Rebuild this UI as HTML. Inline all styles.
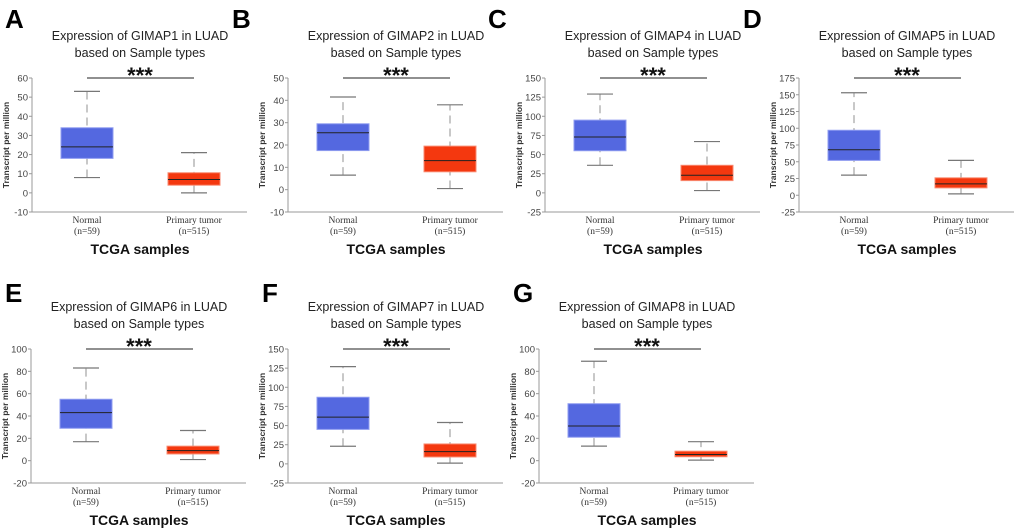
<!DOCTYPE html>
<html><head><meta charset="utf-8"><style>
html,body{margin:0;padding:0;background:#fff;}
svg{display:block;font-family:"Liberation Sans",sans-serif;}
</style></head><body>
<svg id="fig" width="1020" height="528" viewBox="0 0 1020 528"></svg>
<script>
const panelLetters = ["A","B","C","D","E","F","G"];
const genes = ["GIMAP1","GIMAP2","GIMAP4","GIMAP5","GIMAP6","GIMAP7","GIMAP8"];
const yMaxs = [60,50,150,175,100,150,100];
const yMins = [-10,-10,-25,-25,-20,-25,-20];
const ySteps = [10,10,25,25,20,25,20];
// [whiskerLow, q1, median, q3, whiskerHigh]
const normalStats = [[8,18,24,34,53],[6.5,17.5,25.5,29.5,41.5],[36,55,73,95,129],[30,52,68,97,153],[17,29,43,55,83],[23,45,61,87,127],[13,21,31,51,89]];
const tumorStats = [[0,4,7,10.5,21],[0.5,8,13,19.5,38],[3,16,23,36,67],[2,11,17,26,52],[1,6,9,13,27],[1,9,16,26,54],[0.5,3.5,5.5,8.5,17]];
const categories = ["Normal","Primary tumor"];
const counts = ["(n=59)","(n=515)"];

const NS="http://www.w3.org/2000/svg";
const svg=document.getElementById('fig');
function mk(tag,attrs,parent,text){const e=document.createElementNS(NS,tag);for(const k in attrs)e.setAttribute(k,attrs[k]);if(text!==undefined)e.textContent=text;(parent||svg).appendChild(e);return e;}
const axisXs=[32,288,545,799,31,288,539];
const rowTop=[78,78,78,78,349,349,349];
const letterPos=[[5,28],[232,28],[488,28],[743,28],[5,302],[262,302],[513,302]];
const plotH=134, plotW=215;

for(let p=0;p<7;p++){
  const g=mk('g',{});
  
  
  const ax=axisXs[p], top=rowTop[p], bot=top+plotH;
  const y=v=>top+(yMaxs[p]-v)/(yMaxs[p]-yMins[p])*plotH;
  const L=mk('text',{x:letterPos[p][0],y:letterPos[p][1],'font-size':26,'font-weight':'bold',fill:'#000'},g,panelLetters[p]);
  
  const cx=ax+108;
  const t1=mk('text',{x:cx,y:top-38,'font-size':12.5,'text-anchor':'middle',fill:'#222'},g,'Expression of '+genes[p]+' in LUAD');
  
  const t2=mk('text',{x:cx,y:top-21,'font-size':12.5,'text-anchor':'middle',fill:'#222'},g,'based on Sample types');
  
  mk('line',{x1:ax,y1:top,x2:ax,y2:bot,stroke:'#999','stroke-width':1},g);
  mk('line',{x1:ax,y1:bot,x2:ax+plotW,y2:bot,stroke:'#999','stroke-width':1},g);
  for(let v=yMins[p];v<=yMaxs[p]+1e-9;v+=ySteps[p]){
    mk('line',{x1:ax-3,y1:y(v),x2:ax,y2:y(v),stroke:'#999'},g);
    const tl=mk('text',{x:ax-4,y:y(v)+3.5,'font-size':9.5,'text-anchor':'end',fill:'#444'},g,String(v));
    
  }
  const yl=mk('text',{x:0,y:0,'font-size':8.5,'font-weight':'bold','text-anchor':'middle',fill:'#333',transform:`translate(${ax-23},${(top+bot)/2}) rotate(-90)`},g,'Transcript per million');
  
  const centers=[ax+55,ax+162];
  const stats=[normalStats[p],tumorStats[p]];
  const fills=['#5468e0','#f4380f'], strokes=['#8f9cf0','#f98a70'];
  for(let i=0;i<2;i++){
    const s=stats[i], c=centers[i];
    mk('line',{x1:c,y1:y(s[0]),x2:c,y2:y(s[4]),stroke:'#aaa','stroke-width':1.3,'stroke-dasharray':'8,5'},g);
    mk('line',{x1:c-13,y1:y(s[0]),x2:c+13,y2:y(s[0]),stroke:'#777','stroke-width':1.2},g);
    mk('line',{x1:c-13,y1:y(s[4]),x2:c+13,y2:y(s[4]),stroke:'#777','stroke-width':1.2},g);
    const b=mk('rect',{x:c-26,y:y(s[3]),width:52,height:y(s[1])-y(s[3]),fill:fills[i],stroke:strokes[i],'stroke-width':1},g);
    
    mk('line',{x1:c-26,y1:y(s[2]),x2:c+26,y2:y(s[2]),stroke:'#222','stroke-width':1},g);
    const xl=mk('text',{x:c,y:bot+11,'font-size':9.5,'text-anchor':'middle',fill:'#333','font-family':'Liberation Serif'},g,categories[i]);
    
    mk('text',{x:c,y:bot+22,'font-size':9.5,'text-anchor':'middle',fill:'#333','font-family':'Liberation Serif'},g,counts[i]);
  }
  mk('line',{x1:centers[0],y1:top,x2:centers[1],y2:top,stroke:'#222','stroke-width':1},g);
  const st=mk('text',{x:cx,y:top+5,'font-size':22,'font-weight':'bold','text-anchor':'middle',fill:'#111'},g,'***');
  
  const xt=mk('text',{x:cx,y:bot+42,'font-size':14,'font-weight':'bold','text-anchor':'middle',fill:'#111'},g,'TCGA samples');
  
}
</script>
</body></html>
